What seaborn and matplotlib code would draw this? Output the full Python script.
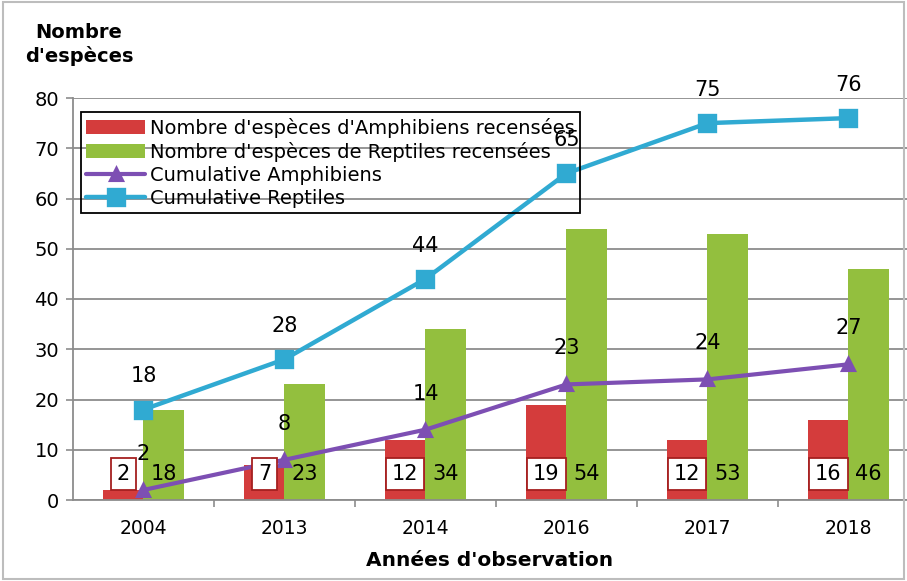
import matplotlib
matplotlib.use("Agg")
import matplotlib.pyplot as plt
import seaborn as sns
import pandas as pd
from matplotlib.patches import Rectangle
from matplotlib.ticker import FixedLocator

years = ["2004", "2013", "2014", "2016", "2017", "2018"]
amphibiens = [2, 7, 12, 19, 12, 16]
reptiles = [18, 23, 34, 54, 53, 46]
cum_amphibiens = [2, 8, 14, 23, 24, 27]
cum_reptiles = [18, 28, 44, 65, 75, 76]

lab_amph = "Nombre d'espèces d'Amphibiens recensées"
lab_rept = "Nombre d'espèces de Reptiles recensées"
lab_cum_amph = "Cumulative Amphibiens"
lab_cum_rept = "Cumulative Reptiles"

RED = "#D43C3C"
GREEN = "#93BF3E"
PURPLE = "#7D4FB3"
CYAN = "#30AAD2"

sns.set_theme(style="white")
plt.rcParams['font.family'] = ['DejaVu Sans']
plt.rcParams['text.color'] = 'black'
plt.rcParams['axes.labelcolor'] = 'black'

df = pd.DataFrame({
    "year": years * 2,
    "value": amphibiens + reptiles,
    "serie": [lab_amph] * len(years) + [lab_rept] * len(years),
})

fig = plt.figure(figsize=(9.07, 5.81), dpi=100)
ax = fig.add_axes([73 / 907, 1 - 500 / 581, (907 - 73) / 907, (500 - 98) / 581])

sns.barplot(data=df, x="year", y="value", hue="serie", order=years,
            palette=[RED, GREEN], width=0.57, gap=0, ax=ax, saturation=1,
            edgecolor="none")

sns.pointplot(x=years, y=cum_amphibiens, color=PURPLE, marker="^", markersize=9,
              linewidth=3, ax=ax, label=lab_cum_amph, order=years)
sns.pointplot(x=years, y=cum_reptiles, color=CYAN, marker="s", markersize=11,
              linewidth=3.2, ax=ax, label=lab_cum_rept, order=years)

# bar labels
for i, c in enumerate(ax.containers):
    for bar, v in zip(c, [amphibiens, reptiles][i]):
        xc = bar.get_x() + bar.get_width() / 2
        if i == 0:
            ax.text(xc, 5.2, str(v), ha="center", va="center", fontsize=15,
                    color="black", zorder=6,
                    bbox=dict(boxstyle="square,pad=0.28", fc="white",
                              ec="#A52020", lw=1.3))
        else:
            ax.text(xc, 5.2, str(v), ha="center", va="center", fontsize=15,
                    color="black", zorder=6)

# line labels
for i, v in enumerate(cum_amphibiens):
    ax.annotate(str(v), (i, v), xytext=(0, 26), textcoords="offset points",
                ha="center", va="center", fontsize=15, color="black", zorder=6)
for i, v in enumerate(cum_reptiles):
    ax.annotate(str(v), (i, v), xytext=(0, 24), textcoords="offset points",
                ha="center", va="center", fontsize=15, color="black", zorder=6)

ax.set_ylim(0, 80)
ax.set_xlim(-0.5, 5.415)
ax.set_yticks(range(0, 81, 10))
ax.yaxis.grid(True, color="#8C8C8C", linewidth=1.3)
ax.set_axisbelow(True)
for s in ["top", "right"]:
    ax.spines[s].set_visible(False)
for s in ["left", "bottom"]:
    ax.spines[s].set_color("#8C8C8C")
    ax.spines[s].set_linewidth(1.3)

ax.xaxis.set_minor_locator(FixedLocator([0.5, 1.5, 2.5, 3.5, 4.5]))
ax.tick_params(axis="x", which="major", length=0, labelsize=13.5, pad=14,
               labelcolor="black")
ax.tick_params(axis="x", which="minor", length=5, color="#8C8C8C", width=1.2,
               direction="out", bottom=True)
ax.tick_params(axis="y", which="major", length=5, color="#8C8C8C", width=1.2,
               direction="out", left=True, labelsize=14, pad=5, labelcolor="black")
ax.set_xlabel("Années d'observation", fontsize=14.5, fontweight="bold", labelpad=9,
              color="black")
ax.set_ylabel("")

h, l = ax.get_legend_handles_labels()
order = [l.index(x) for x in [lab_amph, lab_rept, lab_cum_amph, lab_cum_rept]]
leg = ax.legend([h[k] for k in order], [l[k] for k in order],
                loc="upper left", bbox_to_anchor=(0.009, 0.965), borderaxespad=0,
                fontsize=14, frameon=True, fancybox=False, framealpha=1,
                edgecolor="black", handlelength=3.0, handletextpad=0.25,
                labelspacing=0.2, borderpad=0.3, labelcolor="black")
leg.get_frame().set_facecolor("none")
leg.get_frame().set_linewidth(1.3)
leg.set_zorder(7)

fig.text(79 / 907, 1 - 44 / 581, "Nombre\nd'espèces", ha="center", va="center",
         multialignment="center", fontsize=14, fontweight="bold", linespacing=1.25,
         color="black")

fig.patches.append(Rectangle((0.003, 0.003), 0.994, 0.994, transform=fig.transFigure,
                             fill=False, ec="#BDBDBD", lw=1.5))

fig.savefig("out.png", dpi=100)
